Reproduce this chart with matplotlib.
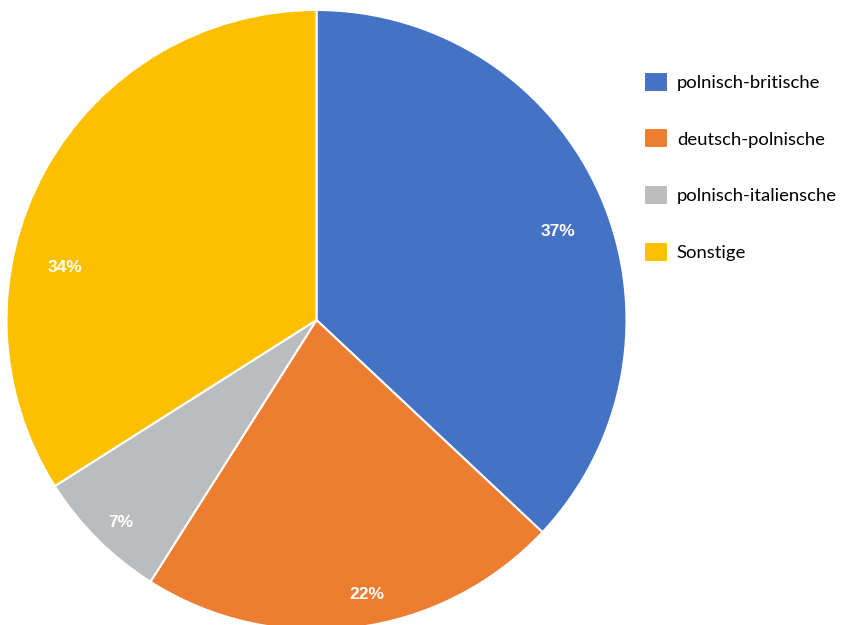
import numpy as np
import matplotlib.pyplot as plt

labels = ['polnisch-britische', 'deutsch-polnische', 'polnisch-italiensche', 'Sonstige']
shares = [37, 22, 7, 34]
colors = ['#4472C4', '#ED7D31', '#BBBCBE', '#FDC000']
# label placement (fraction of radius, angle shift in degrees)
label_dist = [0.83, 0.90, 0.91, 0.83]
label_shift = [-3.4, 3.3, 1.0, 17.0]

plt.rcParams['font.family'] = ['Lato', 'DejaVu Sans']

fig = plt.figure(figsize=(8.49, 6.25), dpi=100)
W, H = 849, 625
cx, cy, r = 316.5, 320, 310
ax = fig.add_axes([(cx - r) / W, (H - cy - r) / H, 2 * r / W, 2 * r / H])

wedges, texts, autotexts = ax.pie(
    shares, colors=colors, startangle=90, counterclock=False, radius=1,
    autopct='%1.0f%%', pctdistance=0.85,
    wedgeprops=dict(edgecolor='white', linewidth=1.5),
    textprops=dict(color='white', fontsize=12.5, fontweight='bold',
                   family=['Liberation Sans', 'DejaVu Sans']))

for w, t, d, s in zip(wedges, autotexts, label_dist, label_shift):
    ang = np.deg2rad((w.theta1 + w.theta2) / 2 + s)
    t.set_position((d * np.cos(ang), d * np.sin(ang)))

ax.set_xlim(-1, 1)
ax.set_ylim(-1, 1)
ax.axis('off')

leg = fig.legend(wedges, labels, loc='upper left', bbox_to_anchor=(627 / W, 1 - 55 / H),
                 frameon=False, fontsize=13.3, handlelength=1.3, handleheight=1.3,
                 handletextpad=0.5, labelspacing=1.98)

plt.savefig('out.png', dpi=100)
